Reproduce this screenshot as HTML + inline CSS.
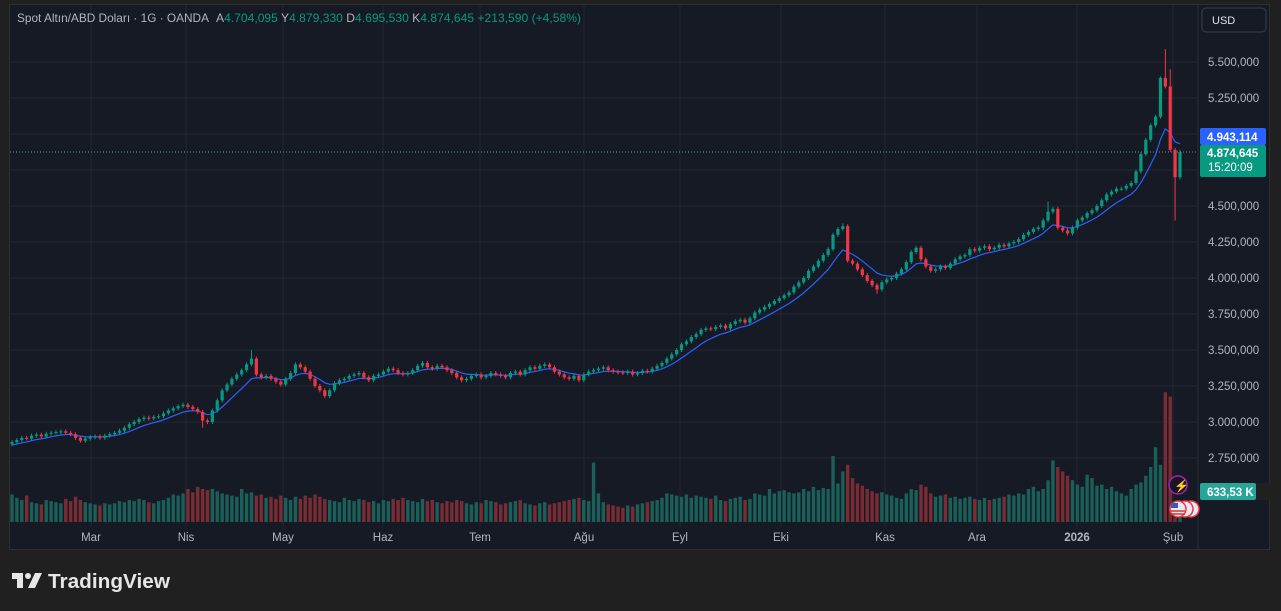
<!DOCTYPE html>
<html><head><meta charset="utf-8"><style>
body{margin:0;width:1281px;height:611px;background:#202020;overflow:hidden;font-family:"Liberation Sans",sans-serif}
#frame{position:absolute;left:9px;top:4px;width:1261px;height:546px;background:#161a25;border:1px solid #2e2e2e;box-sizing:border-box}
svg{position:absolute;left:0;top:0}
</style></head><body>
<div id="frame"></div>
<svg id="c" width="1281" height="611"></svg>
<script>
const closes=[2860,2875,2890,2885,2905,2912,2900,2918,2925,2930,
2935,2925,2915,2890,2870,2885,2895,2900,2890,2905,
2915,2925,2940,2960,2985,3000,3020,3030,3025,3035,
3040,3060,3080,3095,3110,3120,3105,3090,3070,3010,
3000,3080,3150,3220,3260,3300,3330,3360,3400,3440,
3330,3310,3320,3300,3280,3260,3300,3340,3400,3380,
3350,3300,3250,3220,3180,3220,3270,3290,3300,3320,
3330,3340,3310,3290,3320,3330,3350,3370,3360,3340,
3330,3340,3360,3390,3410,3380,3370,3390,3380,3360,
3340,3310,3290,3300,3320,3330,3310,3320,3340,3330,
3320,3310,3340,3350,3330,3360,3380,3370,3390,3400,
3380,3350,3330,3310,3300,3320,3290,3330,3350,3360,
3370,3380,3360,3350,3345,3340,3350,3330,3340,3355,
3350,3370,3390,3410,3440,3470,3500,3540,3560,3590,
3610,3640,3650,3645,3660,3670,3650,3680,3700,3710,
3690,3720,3760,3780,3800,3820,3840,3860,3880,3900,
3940,3970,4000,4050,4080,4120,4160,4200,4300,4340,
4360,4120,4100,4060,4020,3980,3950,3920,3970,3990,
4000,4030,4060,4110,4180,4210,4130,4080,4050,4060,
4080,4070,4100,4130,4150,4160,4200,4190,4210,4220,
4200,4210,4230,4220,4240,4250,4270,4300,4320,4340,
4350,4400,4460,4480,4350,4330,4310,4350,4400,4420,
4450,4470,4500,4540,4580,4600,4620,4620,4640,4660,
4740,4860,4960,5060,5120,5390,5330,4890,4700,4875];
const volumes=[250,220,200,240,180,170,160,200,190,180,170,210,190,230,200,180,170,160,150,170,
160,170,190,180,200,190,210,200,180,170,190,200,220,250,240,260,300,270,320,300,
290,300,280,260,250,240,230,300,260,270,240,250,220,230,210,240,220,200,230,210,
240,220,250,230,210,200,190,180,220,200,190,210,200,180,190,170,200,190,210,200,
220,200,190,180,210,190,200,180,170,190,180,200,190,170,160,180,170,200,190,180,
160,170,180,190,200,170,160,150,170,180,160,170,180,190,200,210,220,200,190,540,
260,180,160,150,140,130,150,140,160,170,180,190,200,220,260,250,240,230,250,220,
240,230,220,210,240,200,190,210,220,230,200,210,260,250,240,300,260,280,290,270,
260,270,300,280,320,290,310,300,600,350,460,520,400,350,330,300,280,260,270,250,
240,220,210,260,300,290,340,320,260,230,240,250,220,230,210,220,230,210,200,220,
200,210,220,230,250,240,260,250,300,320,280,300,380,560,500,460,420,380,340,320,
430,400,330,340,300,320,280,260,240,300,340,360,420,500,680,520,1180,1140,40,60];
const highOverrides={49:3500,170:4380,212:4530,236:5590,235:5400,237:5450};
const lowOverrides={39:2960,177:3890,238:4400};
const priceTicks=[5500,5250,5000,4750,4500,4250,4000,3750,3500,3250,3000,2750];
const monthLabels=["Mar","Nis","May","Haz","Tem","Ağu","Eyl","Eki","Kas","Ara","2026","Şub"];
const monthX=[91,186,283,383,480,584,680,781,885,977,1077,1173];

const NS="http://www.w3.org/2000/svg",svg=document.getElementById('c');
function el(t,a,p){const e=document.createElementNS(NS,t);for(const k in a)e.setAttribute(k,a[k]);(p||svg).appendChild(e);return e;}
const yP=p=>62+(5500-p)/250*36;
const xB=i=>12+i*(1180-12)/(closes.length-1);
const yV=v=>522-v*0.11;
const fmt=p=>{const s=Math.round(p*1000).toString();return s.slice(0,1)+"."+s.slice(1,4)+","+s.slice(4);};
const UP="#089981",DN="#f23645";
priceTicks.forEach(p=>{const g=el('line',{x1:10,x2:1198,y1:yP(p),y2:yP(p),stroke:'#232734','stroke-width':1});
});
monthX.forEach(x=>{const g=el('line',{x1:x,x2:x,y1:5,y2:527,stroke:'#232734','stroke-width':1});
});
el('line',{x1:1198,x2:1198,y1:5,y2:549,stroke:'#2a2e39'});
closes.forEach((c,i)=>{const o=i?closes[i-1]:c-10;const r=el('rect',{x:xB(i)-1.7,y:yV(volumes[i]),width:3.4,height:522-yV(volumes[i]),fill:c>=o?'#1a5f58':'#7a2c34'});
});
let ema=[],k=2/(9+1);closes.forEach((c,i)=>ema.push(i?ema[i-1]+k*(c-ema[i-1]):c-20));
const ln=el('polyline',{points:ema.map((v,i)=>xB(i)+','+yP(v)).join(' '),fill:'none',stroke:'#2962ff','stroke-width':1.2});

closes.forEach((c,i)=>{const o=i?closes[i-1]:c-15;const col=c>=o?UP:DN;
const hi=highOverrides[i]||Math.max(o,c)+14,lo=lowOverrides[i]||Math.min(o,c)-14;
const w=el('line',{x1:xB(i),x2:xB(i),y1:yP(hi),y2:yP(lo),stroke:col,'stroke-width':1});

const t=yP(Math.max(o,c)),b=yP(Math.min(o,c));
const r=el('rect',{x:xB(i)-1.6,y:t,width:3.2,height:Math.max(1,b-t),fill:col});
});
const last=closes[closes.length-1];
el('line',{x1:10,x2:1198,y1:yP(last),y2:yP(last),stroke:'#5d8f8a','stroke-dasharray':'1 2'});
priceTicks.forEach(p=>{const t=el('text',{x:1208,y:yP(p)+4,fill:'#b2b5be','font-size':11.5});t.textContent=fmt(p);
});
monthLabels.forEach((m,i)=>{const t=el('text',{x:monthX[i],y:541,fill:'#b2b5be','font-size':11.5,'text-anchor':'middle','font-weight':m==='2026'?'bold':'normal'});t.textContent=m;
});
</script>
<svg width="1281" height="611" style="pointer-events:none">
<rect x="1201" y="483" width="69" height="17" fill="#202020"/>
<rect x="1200" y="128" width="66" height="17" rx="2" fill="#2962ff"/>
<text x="1207" y="141" fill="#fff" font-size="11.5" font-weight="bold">4.943,114</text>
<g><rect x="1200" y="145" width="66" height="32" rx="2" fill="#089981"/>
<text x="1207" y="157" fill="#fff" font-size="11.5" font-weight="bold">4.874,645</text>
<text x="1208" y="171" fill="#fff" font-size="11.5">15:20:09</text></g>
<rect x="1200" y="483" width="56" height="17" rx="2" fill="#26a69a"/>
<text x="1207" y="496" fill="#fff" font-size="11.5" font-weight="bold">633,53 K</text>
<rect x="1202" y="8" width="64" height="24" rx="4" fill="#161a25" stroke="#3a3e4a"/>
<text x="1212" y="24" fill="#e0e3eb" font-size="11">USD</text>
<circle cx="1178" cy="485" r="9" fill="#1a1525" stroke="#9c27b0" stroke-width="1.5"/>
<text x="1174" y="490" fill="#b04cd0" font-size="12">⚡</text>
<circle cx="1191" cy="509" r="8" fill="#e8e8f0" stroke="#f23645" stroke-width="1.5"/>
<circle cx="1185" cy="509" r="8" fill="#e8e8f0" stroke="#f23645" stroke-width="1.5"/>
<circle cx="1178" cy="509" r="8" fill="#e8e8f0" stroke="#f23645" stroke-width="1.5"/>
<rect x="1171" y="503" width="7" height="5" fill="#3c5bb5"/><line x1="1171" y1="511" x2="1185" y2="511" stroke="#d33" stroke-width="1.5"/><line x1="1171" y1="514" x2="1185" y2="514" stroke="#d33" stroke-width="1.5"/>
<g font-size="12">
<text x="17" y="22" fill="#b2b5be" textLength="192" lengthAdjust="spacingAndGlyphs">Spot Altın/ABD Doları · 1G · OANDA</text>
<text x="216" y="22" fill="#b2b5be" textLength="365" lengthAdjust="spacingAndGlyphs">A<tspan fill="#089981">4.704,095</tspan>  Y<tspan fill="#089981">4.879,330</tspan>  D<tspan fill="#089981">4.695,530</tspan>  K<tspan fill="#089981">4.874,645</tspan>  <tspan fill="#089981">+213,590 (+4,58%)</tspan></text></g>
<g>
<rect x="12" y="573" width="11" height="6" fill="#e6e6e6"/><rect x="17" y="573" width="6" height="15" fill="#e6e6e6"/>
<circle cx="28" cy="576" r="3" fill="#e6e6e6"/><polygon points="35,573 42,573 35,588 28,588" fill="#e6e6e6"/>
<text x="48" y="588" fill="#e6e6e6" font-size="20" font-weight="bold" textLength="122" lengthAdjust="spacingAndGlyphs">TradingView</text></g>
</svg>
</body></html>
